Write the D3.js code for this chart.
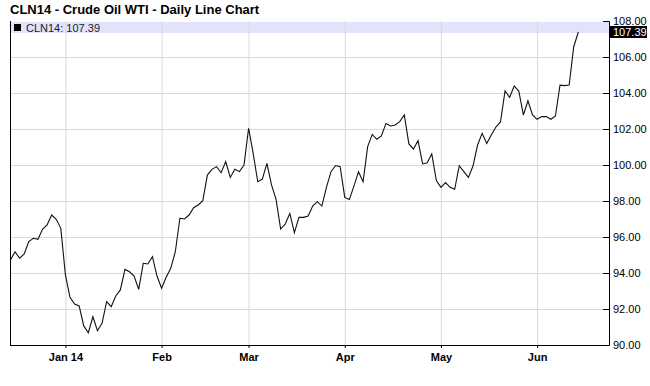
<!DOCTYPE html>
<html>
<head>
<meta charset="utf-8">
<script src="https://cdn.jsdelivr.net/npm/d3@7"></script>
<style>
  body { margin: 0; background: #fff; }
  svg { display: block; font-family: "Liberation Sans", Arial, sans-serif; }
</style>
</head>
<body>
<div id="chart"></div>
<script>
// daily closes, CLN14, mid Dec 2013 .. Jun 13 2014 (trading days)
var closes = [
  94.72, 95.18, 94.82, 95.06, 95.74, 95.93, 95.87, 96.43, 96.67, 97.22,
  96.98, 96.48, 93.89, 92.65, 92.28, 92.17, 91.06, 90.68, 91.57, 90.79,
  91.20, 92.41, 92.13, 92.72, 93.06, 94.20, 94.07, 93.83, 93.09, 94.54,
  94.50, 94.91, 93.83, 93.15, 93.76, 94.26, 95.18, 97.04, 97.00, 97.22,
  97.63, 97.78, 98.02, 99.44, 99.76, 99.91, 99.57, 100.19, 99.31, 99.76,
  99.63, 100.00, 102.04, 100.65, 99.07, 99.22, 100.09, 98.89, 98.09, 96.44,
  96.72, 97.31, 96.24, 97.09, 97.09, 97.17, 97.72, 97.96, 97.72, 98.76,
  99.63, 99.97, 99.91, 98.20, 98.08, 98.83, 99.63, 99.07, 101.02, 101.70,
  101.43, 101.61, 102.31, 102.17, 102.22, 102.41, 102.78, 101.17, 100.89, 101.35,
  100.06, 100.13, 100.61, 99.13, 98.76, 99.02, 98.76, 98.65, 99.96, 99.63,
  99.31, 99.94, 101.11, 101.76, 101.20, 101.67, 102.11, 102.39, 104.11, 103.76,
  104.39, 104.11, 102.78, 103.57, 102.78, 102.54, 102.69, 102.69, 102.54, 102.72,
  104.44, 104.41, 104.44, 106.57, 107.39
];
var monthLabels = ["Jan 14", "Feb", "Mar", "Apr", "May", "Jun"];
var monthIndex = [12, 33, 52, 73, 94, 115];
var priceTicks = [90, 92, 94, 96, 98, 100, 102, 104, 106, 108];
var symbol = "CLN14";
var lastClose = closes[closes.length - 1];

var W = 650, H = 386;
var plotL = 10, plotR = 609, plotT = 21, plotB = 345;

var svg = d3.select("#chart").append("svg")
  .attr("width", W)
  .attr("height", H);

svg.append("text")
  .attr("x", 10).attr("y", 14)
  .attr("font-size", 13).attr("font-weight", "bold")
  .attr("fill", "#000")
  .text(symbol + " - Crude Oil WTI - Daily Line Chart");

var x = d3.scaleLinear().domain([-0.1, 130.7]).range([plotL, plotR]);
var y = d3.scaleLinear().domain([90, 108]).range([plotB, plotT]);

// legend band
svg.append("rect")
  .attr("x", plotL).attr("y", plotT + 1)
  .attr("width", plotR - plotL).attr("height", 11)
  .attr("fill", "#e2e2fa");

// grid
svg.append("g")
  .attr("transform", "translate(" + plotL + ",0)")
  .call(d3.axisLeft(y).tickValues(priceTicks.slice(1, -1)).tickSize(-(plotR - plotL)).tickFormat(""))
  .call(function(g) {
    g.select(".domain").remove();
    g.selectAll("line").attr("stroke", "#d8d8d8");
  });

svg.append("g")
  .attr("transform", "translate(0," + plotB + ")")
  .call(d3.axisBottom(x).tickValues(monthIndex).tickSize(-(plotB - plotT)).tickFormat(""))
  .call(function(g) {
    g.select(".domain").remove();
    g.selectAll("line").attr("stroke", "#d8d8d8");
  });

// legend text
svg.append("rect")
  .attr("x", 14).attr("y", 24).attr("width", 7).attr("height", 7)
  .attr("fill", "#000");
svg.append("text")
  .attr("x", 26).attr("y", 31.5)
  .attr("font-size", 11).attr("fill", "#222")
  .text(symbol + ": " + lastClose.toFixed(2));

// price line
var line = d3.line()
  .x(function(d, i) { return x(i); })
  .y(function(d) { return y(d); });

svg.append("path")
  .datum(closes)
  .attr("fill", "none")
  .attr("stroke", "#111")
  .attr("stroke-width", 1.1)
  .attr("d", line);

// right axis
svg.append("g")
  .attr("transform", "translate(" + plotR + ",0)")
  .call(d3.axisRight(y).tickValues(priceTicks).tickSize(-6).tickPadding(4)
    .tickFormat(function(d) { return d.toFixed(2); }))
  .call(function(g) {
    g.select(".domain").attr("stroke", "#000");
    g.selectAll("line").attr("stroke", "#000");
    g.selectAll("text").attr("font-size", 11).attr("fill", "#000")
      .attr("font-family", "'Liberation Sans', Arial, sans-serif");
  });

// bottom axis
svg.append("g")
  .attr("transform", "translate(0," + plotB + ")")
  .call(d3.axisBottom(x).tickValues(monthIndex).tickSize(3).tickPadding(5)
    .tickFormat(function(d, i) { return monthLabels[i]; }))
  .call(function(g) {
    g.select(".domain").attr("d", "M" + plotL + ",0.5H" + plotR);
    g.selectAll("line").attr("stroke", "#000");
    g.selectAll("text").attr("font-size", 11).attr("font-weight", "bold").attr("fill", "#000")
      .attr("font-family", "'Liberation Sans', Arial, sans-serif");
  });

// left border
svg.append("line")
  .attr("x1", plotL + 0.5).attr("x2", plotL + 0.5)
  .attr("y1", plotT).attr("y2", plotB)
  .attr("stroke", "#000");

// last value marker
var ly = y(lastClose);
svg.append("rect")
  .attr("x", plotR + 1).attr("y", ly - 6)
  .attr("width", 37).attr("height", 12)
  .attr("fill", "#000");
svg.append("text")
  .attr("x", plotR + 4).attr("y", ly + 4)
  .attr("font-size", 11).attr("fill", "#fff")
  .text(lastClose.toFixed(2));
</script>
</body>
</html>
